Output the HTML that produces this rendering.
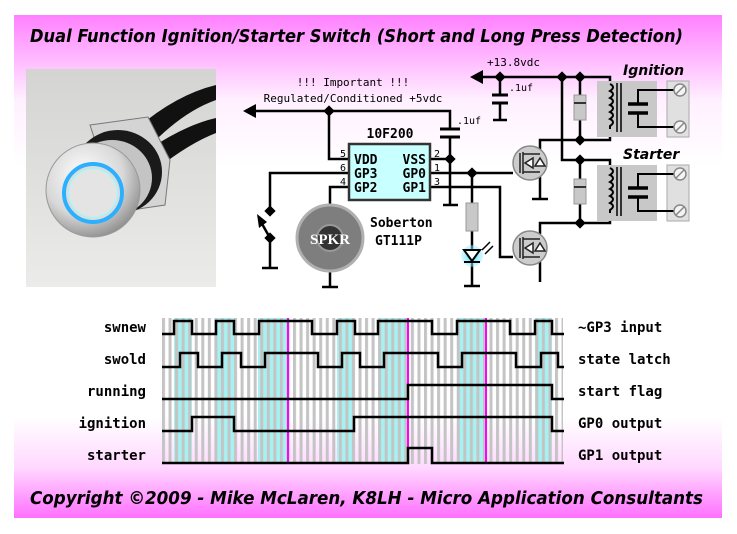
<!DOCTYPE html>
<html><head><meta charset="utf-8"><style>
html,body{margin:0;padding:0;background:#fff;}
svg{display:block;}
.m{font-family:"DejaVu Sans Mono","Liberation Mono",monospace;}
</style></head><body>
<svg width="737" height="534" viewBox="0 0 737 534" xmlns="http://www.w3.org/2000/svg">
<defs>
<linearGradient id="bg" x1="0" y1="0" x2="0" y2="1">
<stop offset="0" stop-color="#ff80ff"/>
<stop offset="0.17" stop-color="#fff0ff"/>
<stop offset="0.3" stop-color="#ffffff"/>
<stop offset="0.8" stop-color="#ffffff"/>
<stop offset="0.9" stop-color="#ffd8ff"/>
<stop offset="1" stop-color="#ff70ff"/>
</linearGradient>
<pattern id="str" x="162" y="0" width="6.55" height="10" patternUnits="userSpaceOnUse">
<rect x="0" y="0" width="3" height="10" fill="#c4c4c4"/>
</pattern>
<radialGradient id="bez" cx="0.4" cy="0.35" r="0.7">
<stop offset="0" stop-color="#ffffff"/><stop offset="0.6" stop-color="#d8d8d8"/><stop offset="1" stop-color="#8a8a8a"/>
</radialGradient>
<linearGradient id="photo" x1="0" y1="0" x2="0" y2="1">
<stop offset="0" stop-color="#d4d4d2"/><stop offset="1" stop-color="#ebebea"/>
</linearGradient>
<radialGradient id="led" cx="0.5" cy="0.5" r="0.5">
<stop offset="0" stop-color="#40e0ff"/><stop offset="1" stop-color="#a0f0ff" stop-opacity="0.4"/>
</radialGradient>
</defs>
<rect x="14" y="15" width="708" height="503" fill="url(#bg)"/>
<text x="30" y="42" font-family="DejaVu Sans,Liberation Sans,sans-serif" font-weight="bold" font-style="italic" font-size="18" textLength="653" lengthAdjust="spacingAndGlyphs">Dual Function Ignition/Starter Switch (Short and Long Press Detection)</text>
<text x="30" y="504" font-family="DejaVu Sans,Liberation Sans,sans-serif" font-weight="bold" font-style="italic" font-size="18" textLength="673" lengthAdjust="spacingAndGlyphs">Copyright ©2009 - Mike McLaren, K8LH - Micro Application Consultants</text>

<!-- photo -->
<rect x="26" y="69" width="190" height="218" fill="url(#photo)"/>
<path d="M135 130 Q175 95 216 85 L216 100 Q182 112 148 148 Z" fill="#111"/>
<path d="M148 150 Q185 125 216 118 L216 133 Q190 143 158 168 Z" fill="#111"/>
<path d="M90 125 L148 117 L170 160 L165 205 L118 212 Z" fill="#d4d4d4" stroke="#777"/>
<ellipse cx="118" cy="172" rx="44" ry="42" fill="#1a1a1a"/>
<ellipse cx="112" cy="178" rx="40" ry="38" fill="#c4c4c4"/>
<circle cx="93" cy="190" r="47" fill="url(#bez)" stroke="#999"/>
<circle cx="93" cy="193" r="29" fill="#dcdcdc" stroke="#2ab0ff" stroke-width="4"/>
<circle cx="93" cy="193" r="24" fill="#e4e4e4" stroke="#9ff" stroke-width="1"/>

<!-- schematic -->
<g stroke="#000" stroke-width="2.5" fill="none">
<polyline points="253,111 450,111 450,128"/>
<polyline points="329,111 329,159 349,159"/>
<line x1="440" y1="129" x2="460" y2="129" stroke-width="3"/>
<line x1="440" y1="137" x2="460" y2="137" stroke-width="3"/>
<polyline points="450,137 450,205"/>
<line x1="443" y1="205" x2="458" y2="205"/>
<line x1="430" y1="159" x2="450" y2="159"/>
<polyline points="349,173 270,173 270,211"/>
<line x1="270" y1="238" x2="261" y2="222"/>
<polyline points="270,238 270,268"/>
<line x1="262" y1="268" x2="278" y2="268"/>
<polyline points="349,187 330,187 330,206"/>
<polyline points="330,271 330,287"/>
<line x1="322" y1="287" x2="338" y2="287"/>
<polyline points="430,173 513,173"/>
<polyline points="472,173 472,203"/>
<polyline points="472,231 472,286"/>
<line x1="464" y1="286" x2="480" y2="286"/>
<polyline points="430,187 500,187 500,257 513,257"/>
<polyline points="540,150 540,140 580,140"/>
<polyline points="540,176 540,199"/>
<line x1="532" y1="199" x2="548" y2="199"/>
<polyline points="540,234 540,223 580,223"/>
<polyline points="540,260 540,282"/>
<polyline points="480,77 610,77 610,84"/>
<polyline points="500,77 500,95"/>
<line x1="492" y1="95" x2="508" y2="95" stroke-width="3"/>
<line x1="492" y1="103" x2="508" y2="103" stroke-width="3"/>
<polyline points="500,103 500,120"/>
<line x1="493" y1="120" x2="507" y2="120"/>
<polyline points="562,77 562,160 610,160 610,168"/>
<polyline points="580,77 580,140"/>
<polyline points="580,160 580,223"/>
<polyline points="610,133 610,140 580,140"/>
<polyline points="610,217 610,223 580,223"/>
</g>
<polygon points="243,111 256,104 256,118" fill="#000"/>
<polygon points="470,77 483,70 483,84" fill="#000"/>
<polygon points="257,214 267,222 259,228" fill="#000"/>
<g fill="#000">
<rect x="325" y="107" width="8" height="8" transform="rotate(45 329 111)"/>
<rect x="446" y="155" width="8" height="8" transform="rotate(45 450 159)"/>
<rect x="468" y="169" width="8" height="8" transform="rotate(45 472 173)"/>
<rect x="266" y="207" width="8" height="8" transform="rotate(45 270 211)"/>
<rect x="266" y="234" width="8" height="8" transform="rotate(45 270 238)"/>
<rect x="496" y="73" width="8" height="8" transform="rotate(45 500 77)"/>
<rect x="558" y="73" width="8" height="8" transform="rotate(45 562 77)"/>
<rect x="576" y="73" width="8" height="8" transform="rotate(45 580 77)"/>
<rect x="576" y="136" width="8" height="8" transform="rotate(45 580 140)"/>
<rect x="576" y="156" width="8" height="8" transform="rotate(45 580 160)"/>
<rect x="576" y="219" width="8" height="8" transform="rotate(45 580 223)"/>
</g>
<rect x="349" y="144" width="81" height="56" fill="#c8ffff" stroke="#333" stroke-width="2.5"/>
<g class="m" font-weight="bold" font-size="13">
<text x="390" y="138" text-anchor="middle">10F200</text>
<text x="354" y="164">VDD</text><text x="354" y="178">GP3</text><text x="354" y="192">GP2</text>
<text x="426" y="164" text-anchor="end">VSS</text><text x="426" y="178" text-anchor="end">GP0</text><text x="426" y="192" text-anchor="end">GP1</text>
<text x="370" y="227">Soberton</text><text x="375" y="245">GT111P</text>
</g>
<g class="m" font-size="10">
<text x="340" y="157">5</text><text x="340" y="171">6</text><text x="340" y="185">4</text>
<text x="434" y="157">2</text><text x="434" y="171">1</text><text x="434" y="185">3</text>
<text x="353" y="86" text-anchor="middle" font-size="11">!!! Important !!!</text>
<text x="353" y="102" text-anchor="middle" font-size="11">Regulated/Conditioned +5vdc</text>
<text x="457" y="124">.1uf</text>
<text x="509" y="91">.1uf</text>
<text x="487" y="66" font-size="11">+13.8vdc</text>
</g>
<circle cx="330" cy="238" r="33" fill="#7e7e7e" stroke="#b0b0b0" stroke-width="3"/>
<circle cx="330" cy="238" r="13" fill="#333" stroke="#999" stroke-width="2"/>
<text x="330" y="244" text-anchor="middle" font-family="Liberation Serif,serif" font-weight="bold" font-size="15" fill="#fff">SPKR</text>
<rect x="466" y="203" width="12" height="28" fill="#c8c8c8" stroke="#999"/>
<circle cx="472" cy="256" r="11" fill="url(#led)"/>
<polygon points="464,250 480,250 472,261" fill="#fff" stroke="#000" stroke-width="2"/>
<line x1="464" y1="262" x2="480" y2="262" stroke="#000" stroke-width="2"/>
<line x1="482" y1="250" x2="490" y2="242" stroke="#000" stroke-width="1.5"/>
<line x1="485" y1="254" x2="493" y2="246" stroke="#000" stroke-width="1.5"/>
<g stroke="#222" stroke-width="1.5">
<circle cx="530" cy="163" r="17" fill="#ccc" stroke="#888"/>
<circle cx="530" cy="248" r="17" fill="#ccc" stroke="#888"/>
<line x1="520" y1="153" x2="520" y2="173"/><line x1="523" y1="152" x2="523" y2="174"/>
<polyline points="523,154 540,154" fill="none"/><polyline points="523,172 540,172" fill="none"/>
<polygon points="525,163 533,158 533,168" fill="#fff"/><polygon points="535,166 545,166 540,158" fill="#fff"/>
<line x1="520" y1="238" x2="520" y2="258"/><line x1="523" y1="237" x2="523" y2="259"/>
<polyline points="523,239 540,239" fill="none"/><polyline points="523,257 540,257" fill="none"/>
<polygon points="525,248 533,243 533,253" fill="#fff"/><polygon points="535,251 545,251 540,243" fill="#fff"/>
</g>
<rect x="574" y="95" width="12" height="25" fill="#c8c8c8" stroke="#999"/>
<line x1="574" y1="103" x2="586" y2="103" stroke="#333" stroke-width="2"/>
<rect x="574" y="179" width="12" height="25" fill="#c8c8c8" stroke="#999"/>
<line x1="574" y1="187" x2="586" y2="187" stroke="#333" stroke-width="2"/>
<g id="rel">
<rect x="597" y="81" width="60" height="56" fill="#c8c8c8"/>
<rect x="667" y="81" width="22" height="56" fill="#e0e0e0" stroke="#aaa"/>
<path d="M610 84 q6 3 0 7 q6 3 0 7 q6 3 0 7 q6 3 0 7 q6 3 0 7 q6 3 0 7 l0 3" fill="none" stroke="#000" stroke-width="2"/>
<line x1="617" y1="83" x2="617" y2="132" stroke="#000" stroke-width="1.5"/>
<line x1="621" y1="83" x2="621" y2="132" stroke="#000" stroke-width="1.5"/>
<line x1="628" y1="104" x2="648" y2="104" stroke="#000" stroke-width="3.5"/>
<line x1="628" y1="113" x2="648" y2="113" stroke="#000" stroke-width="3.5"/>
<polyline points="638,104 638,90 675,90" fill="none" stroke="#000" stroke-width="2"/>
<polyline points="638,113 638,127 675,127" fill="none" stroke="#000" stroke-width="2"/>
<circle cx="680" cy="90" r="6" fill="#f4f4f4" stroke="#888" stroke-width="1.5"/>
<line x1="676" y1="94" x2="684" y2="86" stroke="#888" stroke-width="1.5"/>
<circle cx="680" cy="127" r="6" fill="#f4f4f4" stroke="#888" stroke-width="1.5"/>
<line x1="676" y1="131" x2="684" y2="123" stroke="#888" stroke-width="1.5"/>
</g>
<use href="#rel" transform="translate(0,84)"/>
<g font-family="DejaVu Sans,Liberation Sans,sans-serif" font-weight="bold" font-style="italic" font-size="14">
<text x="623" y="75">Ignition</text><text x="623" y="159">Starter</text>
</g>

<g fill="#a6f2f2">
<rect x="174" y="318" width="18" height="146"/><rect x="216" y="318" width="18" height="146"/>
<rect x="258" y="318" width="30" height="146"/><rect x="337" y="318" width="18" height="146"/>
<rect x="378" y="318" width="30" height="146"/><rect x="457" y="318" width="29" height="146"/>
<rect x="535" y="318" width="17" height="146"/>
</g>
<rect x="162" y="318" width="401" height="146" fill="url(#str)"/>
<g stroke="#ff00ff" stroke-width="2">
<line x1="288" y1="318" x2="288" y2="464"/><line x1="408" y1="318" x2="408" y2="464"/><line x1="486" y1="318" x2="486" y2="464"/>
</g>
<g stroke="#000" stroke-width="2.5" fill="none">
<polyline points="162,334 174,334 174,321 192,321 192,334 216,334 216,321 234,321 234,334 259,334 259,321 312,321 312,334 337,334 337,321 355,321 355,334 378,334 378,321 432,321 432,334 457,334 457,321 510,321 510,334 535,334 535,321 552,321 552,334 564,334"/>
<polyline points="162,367 180,367 180,353 198,353 198,367 222,367 222,353 241,353 241,367 265,367 265,353 318,353 318,367 342,367 342,353 360,353 360,367 384,367 384,353 438,353 438,367 462,367 462,353 516,353 516,367 541,367 541,353 558,353 558,367 564,367"/>
<polyline points="162,399 408,399 408,385 552,385 552,399 564,399"/>
<polyline points="162,431 192,431 192,417 234,417 234,431 354,431 354,417 552,417 552,431 564,431"/>
<polyline points="162,463 408,463 408,448 432,448 432,463 564,463"/>
</g>
<g class="m" font-weight="bold" font-size="14">
<text x="146" y="332" text-anchor="end">swnew</text>
<text x="146" y="364" text-anchor="end">swold</text>
<text x="146" y="396" text-anchor="end">running</text>
<text x="146" y="428" text-anchor="end">ignition</text>
<text x="146" y="460" text-anchor="end">starter</text>
<text x="578" y="332">~GP3 input</text>
<text x="578" y="364">state latch</text>
<text x="578" y="396">start flag</text>
<text x="578" y="428">GP0 output</text>
<text x="578" y="460">GP1 output</text>
</g>
</svg>
</body></html>
